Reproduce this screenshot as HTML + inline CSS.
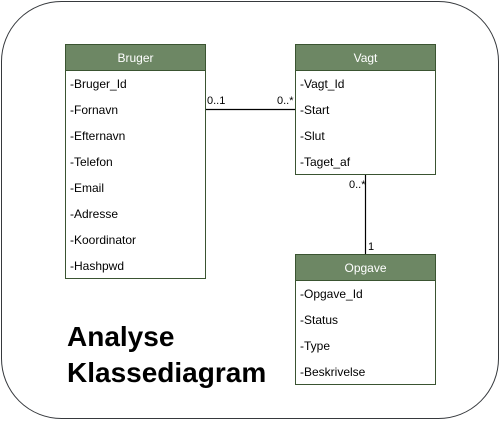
<!DOCTYPE html>
<html><head><meta charset="utf-8"><style>
body{margin:0;background:#fff;width:501px;height:421px;overflow:hidden}
svg text{font-family:"Liberation Sans",Arial,sans-serif}
</style></head><body>
<svg width="501" height="421" xmlns="http://www.w3.org/2000/svg">
<rect x="1.5" y="1.5" width="497" height="417" rx="60" ry="60" fill="#fff" stroke="#36393d" stroke-width="1"/>
<g stroke="#000" stroke-width="1.2">
<line x1="205" y1="109.5" x2="295" y2="109.5"/>
<line x1="365.5" y1="174" x2="365.5" y2="254"/>
</g>
<g font-size="11" fill="#000">
<text x="207" y="104">0..1</text>
<text x="277" y="104">0..*</text>
<text x="349" y="188">0..*</text>
<text x="368" y="250">1</text>
</g>
<!-- Bruger -->
<rect x="65.5" y="44.5" width="140" height="234" fill="#fff" stroke="#3a5431"/>
<rect x="65.5" y="44.5" width="140" height="26" fill="#6d8764" stroke="#3a5431"/>
<text x="135.5" y="62" font-size="12" fill="#fff" text-anchor="middle">Bruger</text>
<g font-size="12" fill="#000">
<text x="70" y="88">-Bruger_Id</text>
<text x="70" y="114">-Fornavn</text>
<text x="70" y="140">-Efternavn</text>
<text x="70" y="166">-Telefon</text>
<text x="70" y="192">-Email</text>
<text x="70" y="218">-Adresse</text>
<text x="70" y="244">-Koordinator</text>
<text x="70" y="270">-Hashpwd</text>
</g>
<!-- Vagt -->
<rect x="295.5" y="44.5" width="140" height="130" fill="#fff" stroke="#3a5431"/>
<rect x="295.5" y="44.5" width="140" height="26" fill="#6d8764" stroke="#3a5431"/>
<text x="365.5" y="62" font-size="12" fill="#fff" text-anchor="middle">Vagt</text>
<g font-size="12" fill="#000">
<text x="300" y="88">-Vagt_Id</text>
<text x="300" y="114">-Start</text>
<text x="300" y="140">-Slut</text>
<text x="300" y="166">-Taget_af</text>
</g>
<!-- Opgave -->
<rect x="295.5" y="254.5" width="140" height="130" fill="#fff" stroke="#3a5431"/>
<rect x="295.5" y="254.5" width="140" height="26" fill="#6d8764" stroke="#3a5431"/>
<text x="365.5" y="272" font-size="12" fill="#fff" text-anchor="middle">Opgave</text>
<g font-size="12" fill="#000">
<text x="300" y="298">-Opgave_Id</text>
<text x="300" y="324">-Status</text>
<text x="300" y="350">-Type</text>
<text x="300" y="376">-Beskrivelse</text>
</g>
<g font-size="28" font-weight="bold" fill="#000">
<text x="67" y="346">Analyse</text>
<text x="67" y="382">Klassediagram</text>
</g>
</svg>
</body></html>
